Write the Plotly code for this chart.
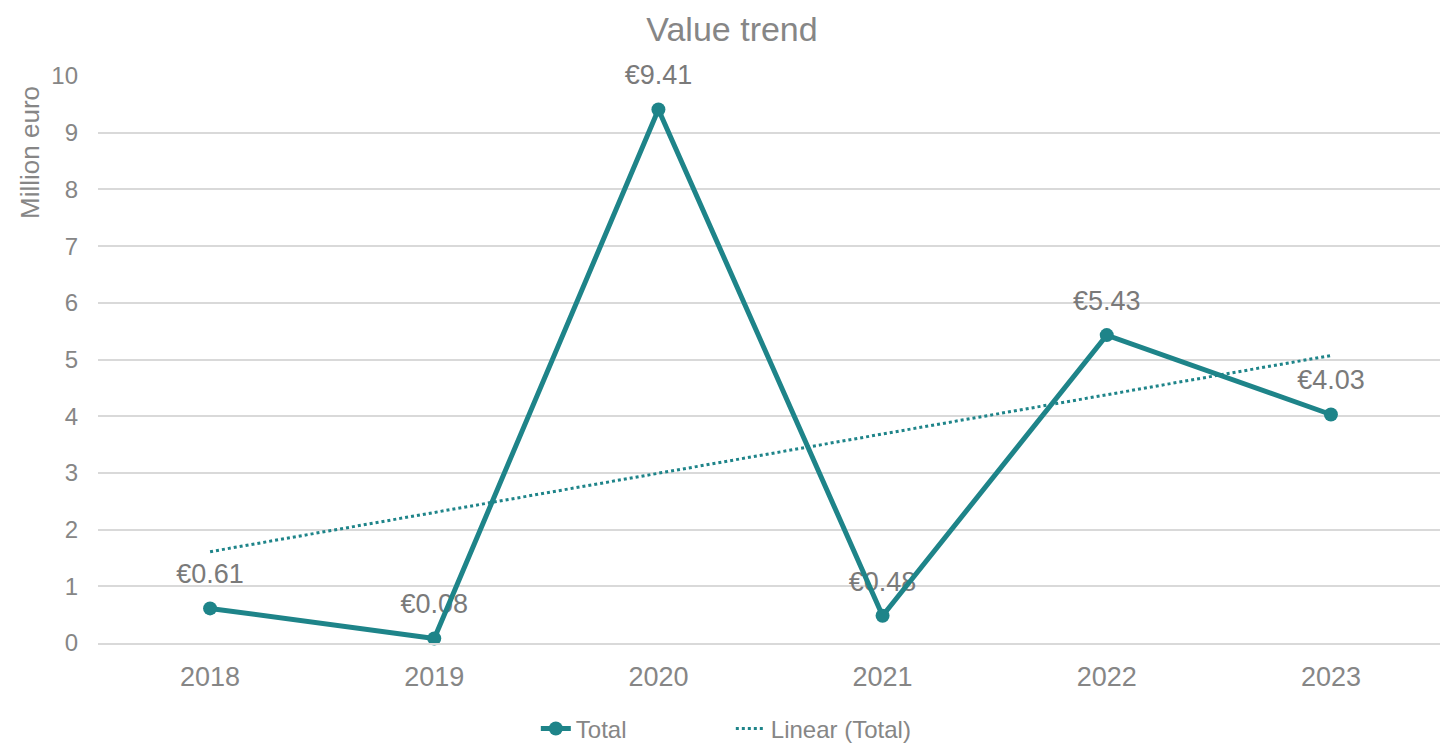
import numpy as np
import plotly.graph_objects as go

years = ["2018", "2019", "2020", "2021", "2022", "2023"]
total = [0.61, 0.08, 9.41, 0.48, 5.43, 4.03]
labels = ["€0.61", "€0.08", "€9.41", "€0.48", "€5.43", "€4.03"]
y_ticks = [0, 1, 2, 3, 4, 5, 6, 7, 8, 9, 10]

teal = "#1E8489"
grey = "#868686"
font = "Liberation Sans, Arial, sans-serif"

# linear trendline fitted to the data (Excel "Linear (Total)")
xi = np.arange(len(years))
slope, intercept = np.polyfit(xi, total, 1)
trend = slope * xi + intercept

fig = go.Figure()
# data labels (drawn first so the line passes over them)
fig.add_trace(go.Scatter(
    x=years, y=total, mode="markers+text", text=labels,
    textposition="top center",
    textfont=dict(size=27, color="#7A7A7A", family=font),
    marker=dict(size=28, opacity=0),
    cliponaxis=False,
    showlegend=False, hoverinfo="skip"))
fig.add_trace(go.Scatter(
    x=years, y=total, mode="lines+markers", name="Total",
    line=dict(color=teal, width=5),
    marker=dict(size=14, color=teal), cliponaxis=False))
fig.add_trace(go.Scatter(
    x=years, y=trend, mode="lines", name="Linear (Total)",
    line=dict(color=teal, width=3, dash="dot")))

fig.update_layout(
    width=1448, height=744,
    paper_bgcolor="white", plot_bgcolor="white",
    margin=dict(l=90, r=13, t=68, b=109),
    title=dict(text="Value trend", x=0.5, xanchor="center", y=0.972, yanchor="middle",
               font=dict(size=34, color=grey, family=font)),
    font=dict(family=font, color=grey),
    xaxis=dict(type="category", range=[-0.5, 5.5], showgrid=False,
               showline=True, linecolor="#D9D9D9", linewidth=1.5,
               ticks="", tickfont=dict(size=27, color=grey), ticklabelstandoff=9),
    yaxis=dict(range=[0, 10], tickvals=y_ticks, showgrid=True, gridcolor="#D9D9D9",
               gridwidth=1.5, zeroline=False, showline=False, ticks="",
               tickfont=dict(size=24, color=grey), ticklabelstandoff=19),
    legend=dict(orientation="h", x=0.4705, xanchor="center",
                yref="container", y=0.031, yanchor="middle",
                entrywidth=150, entrywidthmode="pixels",
                font=dict(size=24, color=grey, family=font)),
    annotations=[dict(text="Million euro", xref="paper", yref="paper",
                      x=-0.0506, y=0.866, xanchor="center", yanchor="middle",
                      textangle=-90, showarrow=False,
                      font=dict(size=26, color=grey, family=font))],
)

fig.write_html("out.html")
